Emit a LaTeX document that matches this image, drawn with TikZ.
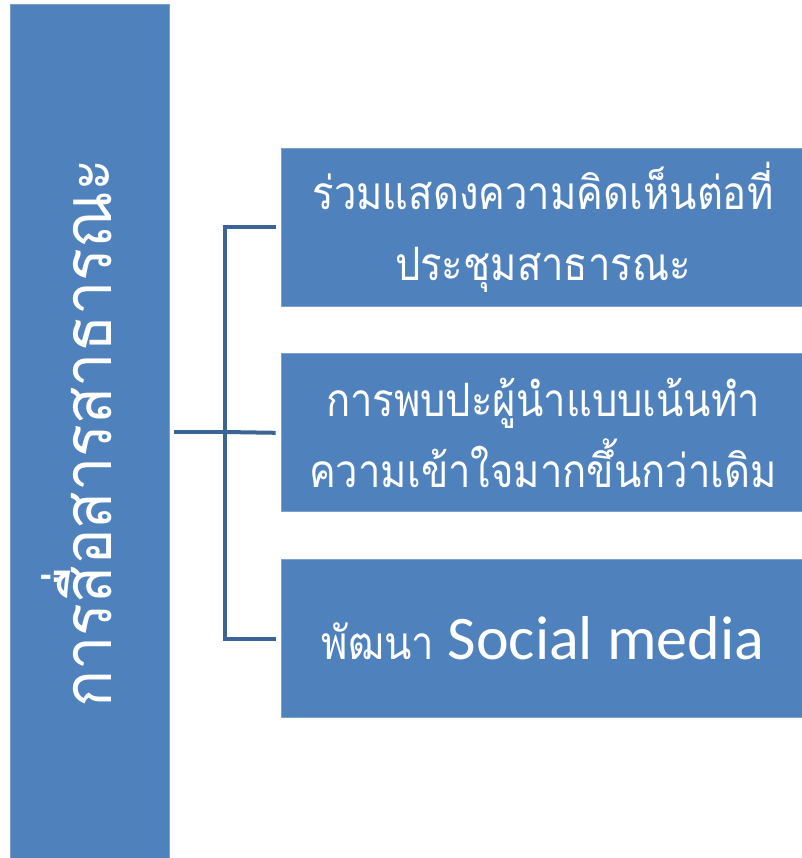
\documentclass[tikz,border=0pt]{standalone}
\usepackage{fontspec}
\setmainfont{Carlito}
\newfontfamily\thaifont[Script=Thai,FakeStretch=0.87]{Loma}
\newfontfamily\thaititle[Script=Thai,FakeStretch=0.9]{Loma}
\usetikzlibrary{positioning,calc}
\definecolor{boxblue}{HTML}{4F81BD}
\definecolor{edgeblue}{HTML}{7EA0CC}
\definecolor{lineblue}{HTML}{3D6497}
\begin{document}
\begin{tikzpicture}[x=1pt,y=-1pt,
  topic/.style={fill=boxblue,draw=edgeblue,line width=0.8pt,text=white,inner sep=0pt},
  item/.style={topic,minimum width=524pt,minimum height=158pt,align=center,
    font=\thaifont\fontsize{46}{71}\selectfont},
  link/.style={draw=lineblue,line width=4pt}]
\useasboundingbox (0,0) rectangle (801,858);
% left box
\node[topic,minimum width=159pt,minimum height=860pt] (main) at (89.5,434) {};
\node[rotate=90,text=white,font=\thaititle\fontsize{68}{80}\selectfont]
  (title) at ([xshift=-13pt,yshift=1pt]main.center) {การสื่อสารสาธารณะ};
% right boxes
\node[item] (item1) at (543,227) {ร่วมแสดงความคิดเห็นต่อที่\\ประชุมสาธารณะ};
\node[item,below=47pt of item1] (item2) {การพบปะผู้นำแบบเน้นทำ\\ความเข้าใจมากขึ้นกว่าเดิม};
\node[item,below=47pt of item2] (item3) {พัฒนา {\fontspec{Carlito}\fontsize{62}{71}\selectfont Social media}};
% connectors
\coordinate (hub) at (225,432);
\draw[link] ([xshift=5pt]main.east |- hub) -- (hub);
\draw[link] ([xshift=-5pt]item1.west) -| (hub |- item3.west) -- ([xshift=-5pt]item3.west);
\draw[link] (hub) -- ([xshift=-5pt]item2.west);
\end{tikzpicture}
\end{document}
